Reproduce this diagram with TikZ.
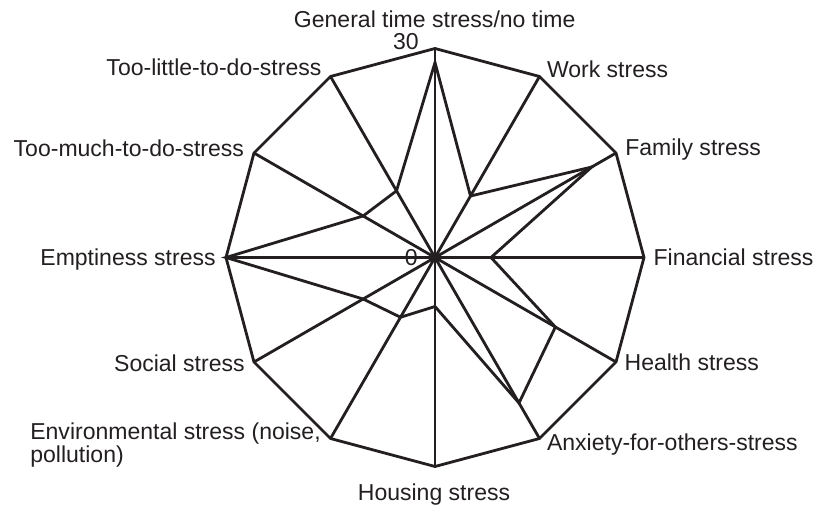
\documentclass[tikz,border=0pt]{standalone}
\usepackage{fontspec}
\setmainfont{Liberation Sans}
\usepackage{tikz}
\definecolor{ink}{RGB}{35,31,32}
\tikzstyle{frame} = [line width=1.6pt, draw=ink, line join=miter]
\tikzstyle{spoke} = [line width=1.6pt, draw=ink]
\tikzstyle{series} = [line width=1.6pt, draw=ink, line join=miter]
\tikzstyle{lbl} = [inner sep=0pt, text=ink, font=\fontsize{13.1}{13.1}\selectfont]

\begin{document}
\begin{tikzpicture}[x=0.02cm, y=0.02cm]
	\useasboundingbox (-435,-249.5) rectangle (382,257.5);
	% axes: centre, outer ring (30) and data points
	\coordinate (c) at (0,0);
	\coordinate (v0) at (90:209);
	\coordinate (v1) at (60:209);
	\coordinate (v2) at (30:209);
	\coordinate (v3) at (0:209);
	\coordinate (v4) at (-30:209);
	\coordinate (v5) at (-60:209);
	\coordinate (v6) at (-90:209);
	\coordinate (v7) at (-120:209);
	\coordinate (v8) at (-150:209);
	\coordinate (v9) at (180:209);
	\coordinate (v10) at (150:209);
	\coordinate (v11) at (120:209);
	\coordinate (d0) at (90:195);
	\coordinate (d1) at (60:71);
	\coordinate (d2) at (30:181);
	\coordinate (d3) at (0:56);
	\coordinate (d4) at (-30:139);
	\coordinate (d5) at (-60:168);
	\coordinate (d6) at (-90:49);
	\coordinate (d7) at (-120:69);
	\coordinate (d8) at (-150:83);
	\coordinate (d9) at (180:209);
	\coordinate (d10) at (150:83);
	\coordinate (d11) at (120:77);

	\node (zero) [lbl, anchor=base east] at (-17,-7.5) {0};
	\node (top) [lbl, anchor=base east] at (-16,207.5) {30};

	\draw [frame] (v0) -- (v1) -- (v2) -- (v3) -- (v4) -- (v5) -- (v6) -- (v7) -- (v8) -- (v9) -- (v10) -- (v11) -- cycle;
	\draw [spoke] (c) -- (v0);
	\draw [spoke] (c) -- (v1);
	\draw [spoke] (c) -- (v2);
	\draw [spoke] (c) -- (v3);
	\draw [spoke] (c) -- (v4);
	\draw [spoke] (c) -- (v5);
	\draw [spoke] (c) -- (v6);
	\draw [spoke] (c) -- (v7);
	\draw [spoke] (c) -- (v8);
	\draw [spoke] (c) -- (v9);
	\draw [spoke] (c) -- (v10);
	\draw [spoke] (c) -- (v11);
	\draw [series] (d0) -- (d1) -- (d2) -- (d3) -- (d4) -- (d5) -- (d6) -- (d7) -- (d8) -- (d9) -- (d10) -- (d11) -- cycle;

	% category labels
	\node (general) [lbl, anchor=base] at (-0.3,229.5) {General time stress/no time};
	\node (work) [lbl, anchor=base west] at (111.7,180.2) {Work stress};
	\node (family) [lbl, anchor=base west] at (190,101.8) {Family stress};
	\node (financial) [lbl, anchor=base west] at (218.3,-7.5) {Financial stress};
	\node (health) [lbl, anchor=base west] at (189.3,-113.2) {Health stress};
	\node (anxiety) [lbl, anchor=base west] at (111.7,-193.2) {Anxiety-for-others-stress};
	\node (housing) [lbl, anchor=base] at (-1,-242.5) {Housing stress};
	\node (environ) [lbl, anchor=base west, align=left] at (-405,-205) {Environmental stress (noise,\\pollution)};
	\node (social) [lbl, anchor=base east] at (-190,-113.5) {Social stress};
	\node (emptiness) [lbl, anchor=base east] at (-219,-7.5) {Emptiness stress};
	\node (toomuch) [lbl, anchor=base east] at (-190.7,100.8) {Too-much-to-do-stress};
	\node (toolittle) [lbl, anchor=base east] at (-113.3,181.5) {Too-little-to-do-stress};
\end{tikzpicture}
\end{document}
